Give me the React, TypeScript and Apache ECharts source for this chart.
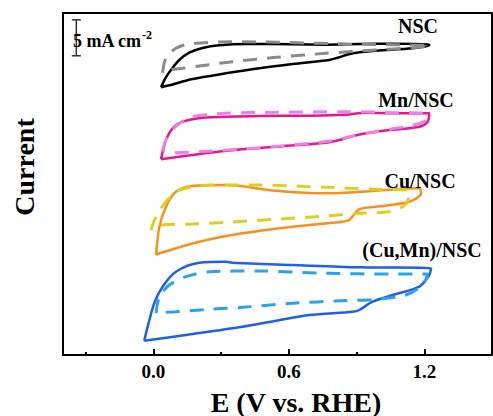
import React, { useEffect, useRef } from "react";
import * as echarts from "echarts";

// x axis (E, V vs. RHE)
const xMin = -0.4;
const xMax = 1.5;
const xMajorTicks = [0, 0.6, 1.2];
const xMinorTicks = [-0.3, 0.3, 0.9];

// y axis: arbitrary stacked current (mA cm^-2, curves offset)
const yMin = 0;
const yMax = 50;

const sampleNames = ["NSC", "Mn/NSC", "Cu/NSC", "(Cu,Mn)/NSC"];
const solidColors = ["#000000", "#e8168c", "#f7901e", "#1f5fea"];
const dashedColors = ["#8a8a8a", "#ee7fe6", "#dccf1e", "#2aa3ea"];

// [E, j] pairs, closed CV loops
const nscSolid = [
  [0.034, 39.14], [0.053, 40.45], [0.078, 41.67], [0.115, 43.13], [0.159, 44.2],
  [0.218, 44.88], [0.292, 45.28], [0.411, 45.47], [0.617, 45.42], [0.765, 45.37],
  [0.912, 45.47], [1.06, 45.51], [1.222, 45.47], [1.222, 45.28], [1.148, 44.84],
  [0.986, 44.49], [0.883, 44.11], [0.816, 43.46], [0.779, 43.13], [0.617, 42.54],
  [0.469, 41.92], [0.322, 41.18], [0.174, 40.35], [0.071, 39.43], [0.034, 39.14],
];
const nscDashed = [
  [0.041, 41.27], [0.056, 43.38], [0.1, 44.84], [0.159, 45.47], [0.351, 45.8],
  [0.543, 45.72], [0.735, 45.57], [0.912, 45.42], [1.06, 45.37], [1.222, 45.22],
  [1.148, 44.93], [0.986, 44.59], [0.765, 44.11], [0.543, 43.52], [0.351, 42.88],
  [0.204, 42.25], [0.13, 41.92], [0.071, 41.67], [0.041, 41.27],
];
const mnSolid = [
  [0.034, 28.61], [0.056, 31.43], [0.093, 33.38], [0.145, 34.25], [0.249, 34.75],
  [0.469, 34.94], [0.691, 34.99], [0.853, 35.13], [0.942, 35.42], [1.06, 35.34],
  [1.222, 35.34], [1.215, 34.11], [1.178, 33.38], [0.986, 32.65], [0.883, 32.02],
  [0.838, 31.54], [0.765, 31.04], [0.543, 30.45], [0.322, 29.87], [0.174, 29.24],
  [0.034, 28.61],
];
const mnDashed = [
  [0.042, 29.9], [0.058, 31.6], [0.098, 33.4], [0.174, 34.84], [0.322, 35.34],
  [0.543, 35.48], [0.853, 35.57], [1.06, 35.42], [1.208, 35.34], [1.2, 34.11],
  [0.986, 32.65], [0.868, 31.92], [0.794, 31.33], [0.617, 30.7], [0.395, 30.12],
  [0.204, 29.72], [0.1, 29.58], [0.042, 29.9],
];
const cuSolid = [
  [0.012, 14.62], [0.027, 18.76], [0.056, 21.68], [0.1, 23.87], [0.174, 24.71],
  [0.322, 24.85], [0.543, 24.02], [0.765, 23.64], [0.986, 24.02], [1.178, 24.37],
  [1.186, 23.64], [1.134, 22.41], [0.986, 21.68], [0.912, 21.3], [0.868, 19.74],
  [0.838, 19.49], [0.617, 18.76], [0.395, 17.79], [0.204, 16.56], [0.027, 14.87],
  [0.012, 14.62],
];
const cuDashed = [
  [-0.01, 18.27], [0.012, 20.22], [0.056, 22.41], [0.115, 24.12], [0.248, 24.85],
  [0.469, 24.85], [0.765, 24.52], [0.986, 24.23], [1.134, 24.02], [1.126, 22.41],
  [1.104, 21.68], [1.045, 20.95], [0.912, 20.72], [0.765, 20.32], [0.543, 19.84],
  [0.322, 19.4], [0.174, 19.15], [0.027, 18.96], [-0.01, 18.27],
];
const cuMnSolid = [
  [-0.04, 2.09], [-0.025, 4.14], [0.004, 7.56], [0.041, 9.99], [0.1, 12.18],
  [0.204, 13.49], [0.322, 13.64], [0.351, 13.49], [0.617, 13.16], [0.912, 12.82],
  [1.23, 12.68], [1.222, 11.7], [1.178, 9.99], [1.06, 8.77], [0.971, 7.79],
  [0.912, 6.58], [0.883, 6.33], [0.691, 5.85], [0.543, 5.01], [0.395, 4.14],
  [0.174, 3.07], [-0.04, 2.09],
];
const cuMnDashed = [
  [0.012, 6.1], [0.027, 8.52], [0.071, 10.23], [0.145, 11.45], [0.248, 12.18],
  [0.469, 12.28], [0.765, 11.94], [1.06, 11.84], [1.215, 11.84], [1.193, 10.23],
  [1.119, 8.77], [0.986, 8.14], [0.838, 7.94], [0.617, 7.56], [0.395, 6.97],
  [0.248, 6.68], [0.1, 6.33], [0.019, 6.18], [0.012, 6.1],
];

// scale bar (5 mA cm^-2)
const scaleBar = [[-0.341, 43.75], [-0.341, 49.0]];

const serif = "'Liberation Serif', 'Times New Roman', serif";

export default function App() {
  const ref = useRef<HTMLDivElement>(null);

  useEffect(() => {
    const chart = echarts.init(ref.current as HTMLDivElement, null, { renderer: "svg" });
    const solids = [nscSolid, mnSolid, cuSolid, cuMnSolid];
    const dashes = [nscDashed, mnDashed, cuDashed, cuMnDashed];
    const series: any[] = [];
    solids.forEach((d, i) => {
      series.push({
        type: "line",
        name: sampleNames[i],
        data: d,
        symbol: "none",
        smooth: 0.3,
        lineStyle: { color: solidColors[i], width: 2.5 },
        z: 3,
      });
    });
    dashes.forEach((d, i) => {
      series.push({
        type: "line",
        name: sampleNames[i] + " dashed",
        data: d,
        symbol: "none",
        smooth: 0.3,
        lineStyle: { color: dashedColors[i], width: 3, type: [14, 10] },
        z: 4,
      });
    });
    series.push({
      type: "line",
      data: scaleBar,
      symbol: "rect",
      symbolSize: [9, 1.5],
      itemStyle: { color: "#333" },
      lineStyle: { color: "#333", width: 1.5 },
      z: 5,
    });

    const labelPos = [
      [418, 26],
      [416, 100],
      [420, 181],
      [422, 250],
    ];

    chart.setOption({
      animation: false,
      backgroundColor: "#fff",
      grid: {
        left: 63,
        right: 1,
        top: 13,
        bottom: 61,
        show: true,
        borderColor: "#000",
        borderWidth: 2,
      },
      xAxis: [
        {
          type: "value",
          min: xMin,
          max: xMax,
          axisLine: { show: false },
          splitLine: { show: false },
          axisTick: {
            show: true,
            inside: true,
            length: 6,
            lineStyle: { color: "#000", width: 2 },
            customValues: xMajorTicks,
          },
          axisLabel: {
            show: true,
            customValues: xMajorTicks,
            formatter: (v: number) => v.toFixed(1),
            fontFamily: serif,
            fontWeight: "bold",
            fontSize: 19,
            color: "#000",
            margin: 7,
          },
        },
        {
          type: "value",
          min: xMin,
          max: xMax,
          position: "bottom",
          axisLine: { show: false },
          splitLine: { show: false },
          axisTick: {
            show: true,
            inside: true,
            length: 3,
            lineStyle: { color: "#000", width: 2 },
            customValues: xMinorTicks,
          },
          axisLabel: { show: false },
        },
      ],
      yAxis: {
        type: "value",
        min: yMin,
        max: yMax,
        axisLine: { show: false },
        axisTick: { show: false },
        axisLabel: { show: false },
        splitLine: { show: false },
      },
      graphic: [
        ...sampleNames.map((n, i) => ({
          type: "text",
          x: labelPos[i][0],
          y: labelPos[i][1],
          style: {
            text: n,
            fontFamily: serif,
            fontWeight: "bold",
            fontSize: 20,
            fill: "#000",
            align: "center",
            verticalAlign: "middle",
          },
          z: 10,
        })),
        {
          type: "text",
          x: 73,
          y: 41,
          style: {
            text: "5 mA cm",
            fontFamily: serif,
            fontWeight: "bold",
            fontSize: 18,
            fill: "#000",
            align: "left",
            verticalAlign: "middle",
          },
          z: 10,
        },
        {
          type: "text",
          x: 142,
          y: 35,
          style: {
            text: "-2",
            fontFamily: serif,
            fontWeight: "bold",
            fontSize: 12,
            fill: "#000",
            align: "left",
            verticalAlign: "middle",
          },
          z: 10,
        },
        {
          type: "text",
          x: 296,
          y: 402,
          style: {
            text: "E (V vs. RHE)",
            fontFamily: serif,
            fontWeight: "bold",
            fontSize: 28,
            fill: "#000",
            align: "center",
            verticalAlign: "middle",
          },
        },
        {
          type: "text",
          x: 24,
          y: 167,
          rotation: Math.PI / 2,
          style: {
            text: "Current",
            fontFamily: serif,
            fontWeight: "bold",
            fontSize: 28,
            fill: "#000",
            align: "center",
            verticalAlign: "middle",
          },
        },
      ],
      series,
    });
    return () => chart.dispose();
  }, []);

  return (
    <div
      ref={ref}
      style={{ position: "fixed", left: 0, top: 0, width: 493, height: 416 }}
    />
  );
}
